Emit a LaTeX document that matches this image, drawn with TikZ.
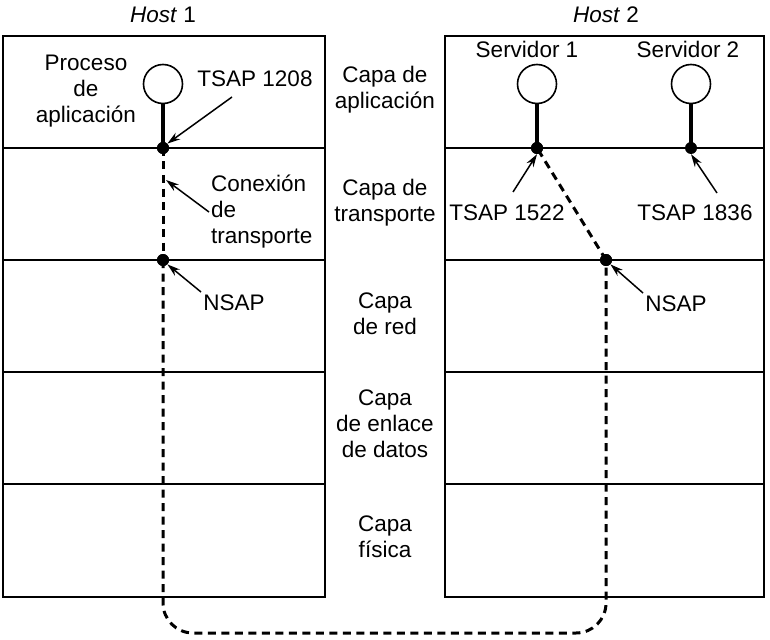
\documentclass[tikz,border=0pt]{standalone}
\usepackage{fontspec}
\setmainfont{Liberation Sans}
\usetikzlibrary{arrows.meta}
\begin{document}
\begin{tikzpicture}[x=1pt,y=-1pt,
  lbl/.style={font=\fontsize{22.5}{26}\selectfont, align=center, inner sep=0pt},
  box/.style={draw, line width=1.6pt},
  proc/.style={draw, circle, line width=1.6pt, minimum size=39pt, inner sep=0pt},
  sap/.style={circle, fill, inner sep=0pt, minimum size=12pt},
  stem/.style={line width=3.2pt},
  conn/.style={line width=3pt, dash pattern=on 8pt off 5.5pt},
  ptr/.style={line width=1.5pt, -{Stealth[length=13pt,width=8pt]}}]
\useasboundingbox (0,0) rectangle (770,639);
% host boxes
\draw[box] (3,36) rectangle (325,597);
\draw[box] (445,36) rectangle (764,597);
\foreach \y in {148,260,372,484}{
  \draw[box] (3,\y) -- (325,\y);
  \draw[box] (445,\y) -- (764,\y);
}
% titles
\node[lbl] (host1) at (163,15) {\textit{Host} 1};
\node[lbl] (host2) at (606,15) {\textit{Host} 2};
% layer names
\node[lbl] (lapp) at (385,90) {Capa de\\aplicación};
\node[lbl] (ltra) at (385,203) {Capa de\\transporte};
\node[lbl] (lred) at (385,314) {Capa\\de red};
\node[lbl] (lenl) at (385,424) {Capa\\de enlace\\de datos};
\node[lbl] (lfis) at (385,537) {Capa\\física};
% processes
\node[proc] (p1) at (163,84) {};
\node[proc] (s1) at (537,84) {};
\node[proc] (s2) at (691,84) {};
\node[sap] (t1) at (163,148) {};
\node[sap] (t2) at (537,148) {};
\node[sap] (t3) at (691,148) {};
\node[sap] (n1) at (163,260) {};
\node[sap] (n2) at (606,260) {};
\draw[stem] (p1.south) -- (t1.center);
\draw[stem] (s1.south) -- (t2.center);
\draw[stem] (s2.south) -- (t3.center);
% connection
\draw[conn] (t1.center) -- (n1.center);
\draw[conn, rounded corners=30pt] (n1.center) -- (163,633) -- (606,633) -- (n2.center);
\draw[conn] (n2.center) -- (t2.center);
\node[sap] at (t1) {};
\node[sap] at (n1) {};
\node[sap] at (t2) {};
\node[sap] at (n2) {};
% labels
\node[lbl] (proc) at (86,91) {Proceso\\de\\aplicación};
\node[lbl] (sv1) at (527,49) {Servidor 1};
\node[lbl] (sv2) at (688,49) {Servidor 2};
\node[lbl] (tsap1) at (255,79) {TSAP 1208};
\node[lbl, align=left, anchor=west] (conx) at (211,212) {Conexión\\de\\transporte};
\node[lbl] (nsap1) at (234,303) {NSAP};
\node[lbl] (tsap2) at (507,213) {TSAP 1522};
\node[lbl] (tsap3) at (695,213) {TSAP 1836};
\node[lbl] (nsap2) at (676,304) {NSAP};
% pointers
\coordinate (a1) at (232,97);
\coordinate (a2) at (209,212);
\coordinate (a3) at (201,292);
\coordinate (a4) at (513,192);
\coordinate (a5) at (717,193);
\coordinate (a6) at (643,293);
\draw[ptr] (a1) -- (t1.north east);
\draw[ptr] (a2) -- (166,180);
\draw[ptr] (a3) -- (n1.south east);
\draw[ptr] (a4) -- (t2.south);
\draw[ptr] (a5) -- (t3.south);
\draw[ptr] (a6) -- (n2.south east);
\end{tikzpicture}
\end{document}
